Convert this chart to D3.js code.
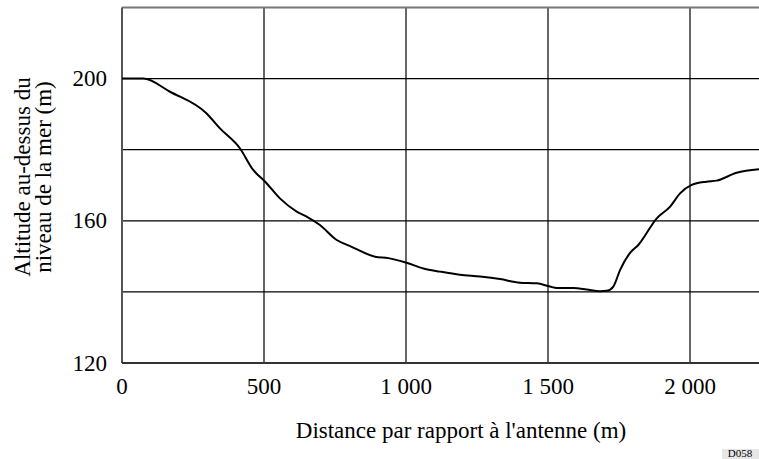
<!DOCTYPE html>
<html>
<head>
<meta charset="utf-8">
<script src="https://d3js.org/d3.v7.min.js"></script>
<style>
  body { margin: 0; background: #fff; }
  svg text { font-family: "Liberation Serif", "Times New Roman", "DejaVu Serif", serif; }
</style>
</head>
<body>
<svg id="chart" width="759" height="459"></svg>
<script>
// Data
const distance = [0, 75, 169, 298, 345, 415, 462, 504, 556, 615, 650, 697, 756, 803, 891, 938, 1002, 1061, 1120, 1190, 1261, 1331, 1401, 1460, 1507, 1531, 1589, 1636, 1683, 1707, 1730, 1754, 1789, 1818, 1883, 1930, 1965, 2006, 2058, 2094, 2164, 2243];
const altitude = [200, 200, 196.3, 190.2, 186, 180.4, 174.3, 171, 166.3, 162.6, 161.2, 158.8, 154.6, 152.9, 149.9, 149.5, 148.2, 146.6, 145.7, 144.8, 144.3, 143.6, 142.6, 142.4, 141.5, 141.1, 141.1, 140.7, 140.2, 140.3, 141.5, 146.2, 151.0, 153.2, 160.7, 164, 167.7, 170.1, 171, 171.3, 173.5, 174.5];
const xTicks = [0, 500, 1000, 1500, 2000];
const xTickLabels = ["0", "500", "1 000", "1 500", "2 000"];
const yTicks = [120, 140, 160, 180, 200];
const yTickLabels = ["120", "", "160", "", "200"];
const xTitle = "Distance par rapport à l'antenne (m)";
const yTitle = ["Altitude au-dessus du", "niveau de la mer (m)"];
const refCode = "D058";

(function () {
const svg = d3.select("#chart");
const FONT = '"Liberation Serif", "Times New Roman", "DejaVu Serif", serif';
const FS = 23;
const pLeft = 122, pTop = 7.5, pBottom = 363;
const x = d3.scaleLinear().domain([0, 2250]).range([pLeft, pLeft + 2250 * 0.284]);
const y = d3.scaleLinear().domain([120, 220]).range([pBottom, pTop]);
const pRight = x(2250);

const data = distance.map((d, i) => ({ d, a: altitude[i] }));

// grid
svg.append("g").selectAll("line").data(xTicks.slice(1)).join("line")
  .attr("x1", d => x(d)).attr("x2", d => x(d))
  .attr("y1", pTop).attr("y2", pBottom)
  .attr("stroke", "#000").attr("stroke-width", 1.2);
svg.append("g").selectAll("line").data(yTicks.slice(1)).join("line")
  .attr("x1", pLeft).attr("x2", pRight)
  .attr("y1", d => y(d)).attr("y2", d => y(d))
  .attr("stroke", "#000").attr("stroke-width", 1.2);

// frame
svg.append("line").attr("x1", pLeft).attr("x2", pRight).attr("y1", pTop).attr("y2", pTop)
  .attr("stroke", "#777").attr("stroke-width", 2);
svg.append("line").attr("x1", pLeft).attr("x2", pLeft).attr("y1", pTop).attr("y2", pBottom)
  .attr("stroke", "#555").attr("stroke-width", 2);
svg.append("line").attr("x1", pLeft).attr("x2", pRight).attr("y1", pBottom).attr("y2", pBottom)
  .attr("stroke", "#333").attr("stroke-width", 2);

// curve
const line = d3.line().x(p => x(p.d)).y(p => y(p.a)).curve(d3.curveMonotoneX);
svg.append("path").datum(data).attr("d", line)
  .attr("fill", "none").attr("stroke", "#000").attr("stroke-width", 2);

// tick labels
svg.append("g").selectAll("text").data(xTicks).join("text")
  .attr("x", d => x(d)).attr("y", 394)
  .attr("text-anchor", "middle").attr("font-size", FS).attr("font-family", FONT)
  .text((d, i) => xTickLabels[i]);
svg.append("g").selectAll("text").data(yTicks).join("text")
  .attr("x", 107).attr("y", d => y(d) + 7.5)
  .attr("text-anchor", "end").attr("font-size", FS).attr("font-family", FONT)
  .text((d, i) => yTickLabels[i]);

// titles
svg.append("text").attr("x", 461).attr("y", 438)
  .attr("text-anchor", "middle").attr("font-size", FS).attr("font-family", FONT).text(xTitle);
svg.append("g").selectAll("text").data(yTitle).join("text")
  .attr("transform", (d, i) => `translate(${i === 0 ? 30 : 51},177) rotate(-90)`)
  .attr("text-anchor", "middle").attr("font-size", FS).attr("font-family", FONT).text(d => d);

// ref code box
svg.append("rect").attr("x", 722).attr("y", 449).attr("width", 40).attr("height", 14).attr("fill", "#e6e6e6");
svg.append("text").attr("x", 740).attr("y", 457).attr("text-anchor", "middle")
  .attr("font-size", 11).attr("font-family", FONT).text(refCode);
})();
</script>
</body>
</html>
